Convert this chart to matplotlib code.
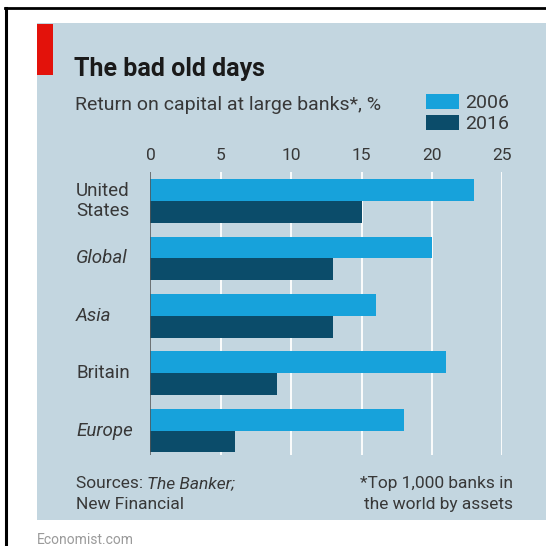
import matplotlib.pyplot as plt
from matplotlib.patches import Rectangle
from matplotlib.lines import Line2D
from matplotlib.transforms import blended_transform_factory
import numpy as np

# data
regions = ['United\nStates', 'Global', 'Asia', 'Britain', 'Europe']
italic = [False, True, True, False, True]
roc_2006 = [23, 20, 16, 21, 18]
roc_2016 = [15, 13, 13, 9, 6]
years = ['2006', '2016']
xticks = [0, 5, 10, 15, 20, 25]

W = 546
FONT = 'Roboto'
BG = '#c3d6e0'
LIGHT = '#17a2db'
DARK = '#0b4c6a'
TXT = '#383838'

plt.rcParams['font.family'] = [FONT, 'DejaVu Sans']

fig = plt.figure(figsize=(5.46, 5.46), dpi=100)
fig.patch.set_facecolor('white')


def fx(px):
    return px / W


def fy(py):
    return 1 - py / W


# background panel, red tag, border lines
fig.patches.append(Rectangle((fx(36.5), fy(520)), 1 - fx(36.5), (520 - 23) / W,
                             transform=fig.transFigure, facecolor=BG, edgecolor='none', zorder=-2))
fig.patches.append(Rectangle((fx(36.5), fy(75)), 16.5 / W, 51 / W,
                             transform=fig.transFigure, facecolor='#e3120b', edgecolor='none', zorder=-1))
fig.lines.append(Line2D([fx(5), 1], [fy(8), fy(8)], transform=fig.transFigure, color='black', lw=2))
fig.lines.append(Line2D([fx(6), fx(6)], [fy(8), 0], transform=fig.transFigure, color='black', lw=2.2))

# axes placed so 0..25 spans the same pixels as the original
ax = fig.add_axes([fx(150.4), fy(455), 352 / W, 283 / W])
ax.set_facecolor('none')
y = np.arange(len(regions))
h = 0.38
b1 = ax.barh(y - h / 2, roc_2006, height=h, color=LIGHT, zorder=3, label=years[0])
b2 = ax.barh(y + h / 2, roc_2016, height=h, color=DARK, zorder=3, label=years[1])

ax.set_xlim(0, 25)
ax.set_ylim(4.425, -0.505)
ax.set_xticks(xticks)
ax.xaxis.tick_top()
ax.tick_params(axis='x', length=0, pad=6.5, labelsize=12.5, labelcolor=TXT)
ax.set_yticks([])
for s in ax.spines.values():
    s.set_visible(False)
for t in xticks[1:]:
    ax.axvline(t, color='white', lw=1.3, zorder=1)
ax.axvline(0, color='#555555', lw=1.1, zorder=4)

# category labels, left aligned
tr = blended_transform_factory(fig.transFigure, ax.transData)
for i, name in enumerate(regions):
    ax.text(fx(76), i, name, transform=tr, ha='left', va='center', fontsize=13.5,
            color=TXT, style='italic' if italic[i] else 'normal', linespacing=1.1)

# titles
fig.text(fx(74), fy(76), 'The bad old days', fontsize=18, fontweight='bold',
         color='#1a1a1a', ha='left', va='baseline')
fig.text(fx(75), fy(110), 'Return on capital at large banks*, %', fontsize=14,
         color=TXT, ha='left', va='baseline')

fig.legend(handles=[b1, b2], labels=years, loc='upper left',
           bbox_to_anchor=(fx(426), fy(94)), frameon=False, fontsize=14,
           handlelength=1.7, handleheight=0.8, handletextpad=0.3,
           labelspacing=0.15, borderpad=0, borderaxespad=0, labelcolor=TXT)

# footer
fig.canvas.draw()
r = fig.canvas.get_renderer()
s1 = fig.text(fx(76), fy(488), 'Sources: ', fontsize=12.5, color=TXT, ha='left', va='baseline')
bb = s1.get_window_extent(renderer=r)
fig.text(bb.x1 / fig.bbox.width, fy(488), 'The Banker;', fontsize=12.5, color=TXT,
         style='italic', ha='left', va='baseline')
fig.text(fx(76), fy(509), 'New Financial', fontsize=12.5, color=TXT, ha='left', va='baseline')
fig.text(fx(513), fy(488), '*Top 1,000 banks in', fontsize=12.5, color=TXT, ha='right', va='baseline')
fig.text(fx(513), fy(509), 'the world by assets', fontsize=12.5, color=TXT, ha='right', va='baseline')
fig.text(fx(37), fy(544), 'Economist.com', fontsize=10, color='#9a9a9a', ha='left', va='baseline')

fig.savefig('out.png', dpi=100)
